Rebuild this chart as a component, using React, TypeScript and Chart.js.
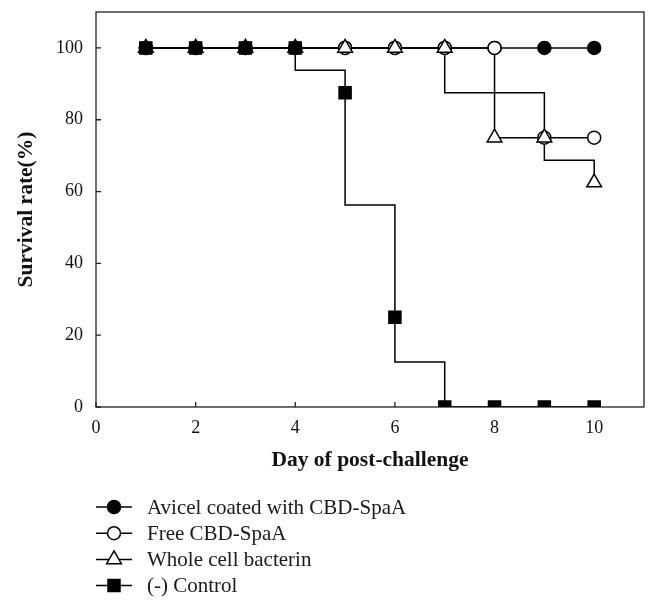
import React, { useEffect, useRef } from "react";
import { Chart, registerables } from "chart.js";
import { drawPoint } from "chart.js/helpers";

Chart.register(...registerables);

const days = [1, 2, 3, 4, 5, 6, 7, 8, 9, 10];
const avicel = [100, 100, 100, 100, 100, 100, 100, 100, 100, 100];
const freeCbd = [100, 100, 100, 100, 100, 100, 100, 100, 75, 75];
const wholeCell = [100, 100, 100, 100, 100, 100, 100, 75, 75, 62.5];
const control = [100, 100, 100, 100, 87.5, 25, 0, 0, 0, 0];

const seriesLabels = [
  "Avicel coated with CBD-SpaA",
  "Free CBD-SpaA",
  "Whole cell bacterin",
  "(-) Control",
];
const xTitle = "Day of post-challenge";
const yTitle = "Survival rate(%)";

const FONT = "'Liberation Serif', 'Times New Roman', serif";

type Style = { pointStyle: string; radius: number; fill: string };
const styles: Style[] = [
  { pointStyle: "circle", radius: 6.5, fill: "#000" },
  { pointStyle: "circle", radius: 6.5, fill: "#fff" },
  { pointStyle: "triangle", radius: 8.5, fill: "#fff" },
  { pointStyle: "rect", radius: 8.5, fill: "#000" },
];
// drawing priority: lower = on top
const orders = [3, 2, 1, 0];

function stepPath(xs: number[], ys: number[]) {
  const pts: { x: number; y: number }[] = [];
  for (let i = 0; i < xs.length - 1; i++) {
    const mid = (ys[i] + ys[i + 1]) / 2;
    pts.push({ x: xs[i], y: ys[i] });
    pts.push({ x: xs[i], y: mid });
    pts.push({ x: xs[i + 1], y: mid });
    pts.push({ x: xs[i + 1], y: ys[i + 1] });
  }
  return pts;
}

export default function App() {
  const ref = useRef<HTMLCanvasElement | null>(null);

  useEffect(() => {
    const canvas = ref.current;
    if (!canvas) return;
    const all = [avicel, freeCbd, wholeCell, control];

    const lineSets = all.map((ys, i) => ({
      type: "line" as const,
      label: seriesLabels[i] + " line",
      data: stepPath(days, ys),
      borderColor: "#000",
      borderWidth: 1.5,
      pointRadius: 0,
      fill: false,
      tension: 0,
      order: 10 + orders[i],
    }));
    const markerSets = all.map((ys, i) => ({
      type: "scatter" as const,
      label: seriesLabels[i],
      data: days.map((d, k) => ({ x: d, y: ys[k] })),
      showLine: false,
      pointStyle: styles[i].pointStyle,
      pointRadius: styles[i].radius,
      pointBackgroundColor: styles[i].fill,
      pointBorderColor: "#000",
      pointBorderWidth: 1.5,
      order: orders[i],
    }));

    const framePlugin = {
      id: "frame",
      beforeDatasetsDraw(chart: any) {
        const { ctx, chartArea } = chart;
        const { left, right, top, bottom } = chartArea;
        ctx.save();
        ctx.strokeStyle = "#222";
        ctx.lineWidth = 1.3;
        ctx.strokeRect(left, top, right - left, bottom - top);
        const xs = chart.scales.x;
        const ysc = chart.scales.y;
        ctx.beginPath();
        xs.ticks.forEach((t: any) => {
          const px = xs.getPixelForValue(t.value);
          ctx.moveTo(px, bottom);
          ctx.lineTo(px, bottom - 5);
        });
        ysc.ticks.forEach((t: any) => {
          const py = ysc.getPixelForValue(t.value);
          ctx.moveTo(left, py);
          ctx.lineTo(left + 5, py);
        });
        ctx.stroke();
        ctx.restore();
      },
    };

    const legendPlugin = {
      id: "customLegend",
      afterDraw(chart: any) {
        const { ctx } = chart;
        ctx.save();
        const rowY0 = 507;
        const rowGap = 26.2;
        seriesLabels.forEach((label, i) => {
          const y = rowY0 + i * rowGap;
          ctx.strokeStyle = "#000";
          ctx.lineWidth = 1.5;
          ctx.beginPath();
          ctx.moveTo(96, y);
          ctx.lineTo(132, y);
          ctx.stroke();
          ctx.fillStyle = styles[i].fill;
          ctx.strokeStyle = "#000";
          ctx.lineWidth = 1.5;
          drawPoint(
            ctx,
            {
              pointStyle: styles[i].pointStyle as any,
              radius: styles[i].radius,
              borderWidth: 1.5,
              rotation: 0,
            } as any,
            114,
            y
          );
          ctx.fillStyle = "#1a1a1a";
          ctx.font = `21px ${FONT}`;
          ctx.textBaseline = "middle";
          ctx.textAlign = "left";
          ctx.fillText(label, 147, y + 1);
        });
        ctx.restore();
      },
    };

    const chart = new Chart(canvas, {
      type: "scatter",
      data: { datasets: [...lineSets, ...markerSets] as any },
      options: {
        responsive: false,
        animation: false,
        layout: { padding: { left: 0, right: 16, top: 12, bottom: 120 } },
        plugins: {
          legend: { display: false },
          tooltip: { enabled: false },
        },
        scales: {
          x: {
            type: "linear",
            min: 0,
            max: 11,
            grid: { display: false, drawTicks: false },
            border: { display: false },
            ticks: {
              stepSize: 2,
              includeBounds: false,
              padding: 10,
              color: "#111",
              font: { family: FONT, size: 18 },
            },
            title: {
              display: true,
              text: xTitle,
              color: "#111",
              font: { family: FONT, size: 21.5, weight: "bold" },
              padding: { top: 0, bottom: 22 },
            },
            afterFit(scale: any) {
              scale.height = 88;
              scale.paddingLeft = 0;
              scale.paddingRight = 0;
            },
          },
          y: {
            type: "linear",
            min: 0,
            max: 110,
            grid: { display: false, drawTicks: false },
            border: { display: false },
            ticks: {
              stepSize: 20,
              includeBounds: false,
              padding: 13,
              color: "#111",
              font: { family: FONT, size: 18 },
            },
            title: {
              display: true,
              text: yTitle,
              color: "#111",
              font: { family: FONT, size: 21.5, weight: "bold" },
              padding: { top: 14, bottom: 0 },
            },
            afterFit(scale: any) {
              scale.width = 96;
              scale.paddingTop = 0;
              scale.paddingBottom = 0;
            },
          },
        },
      } as any,
      plugins: [framePlugin, legendPlugin],
    });

    return () => chart.destroy();
  }, []);

  return (
    <div style={{ position: "absolute", left: 0, top: 0, width: 660, height: 615, background: "#fff" }}>
      <canvas ref={ref} width={660} height={615} />
    </div>
  );
}
